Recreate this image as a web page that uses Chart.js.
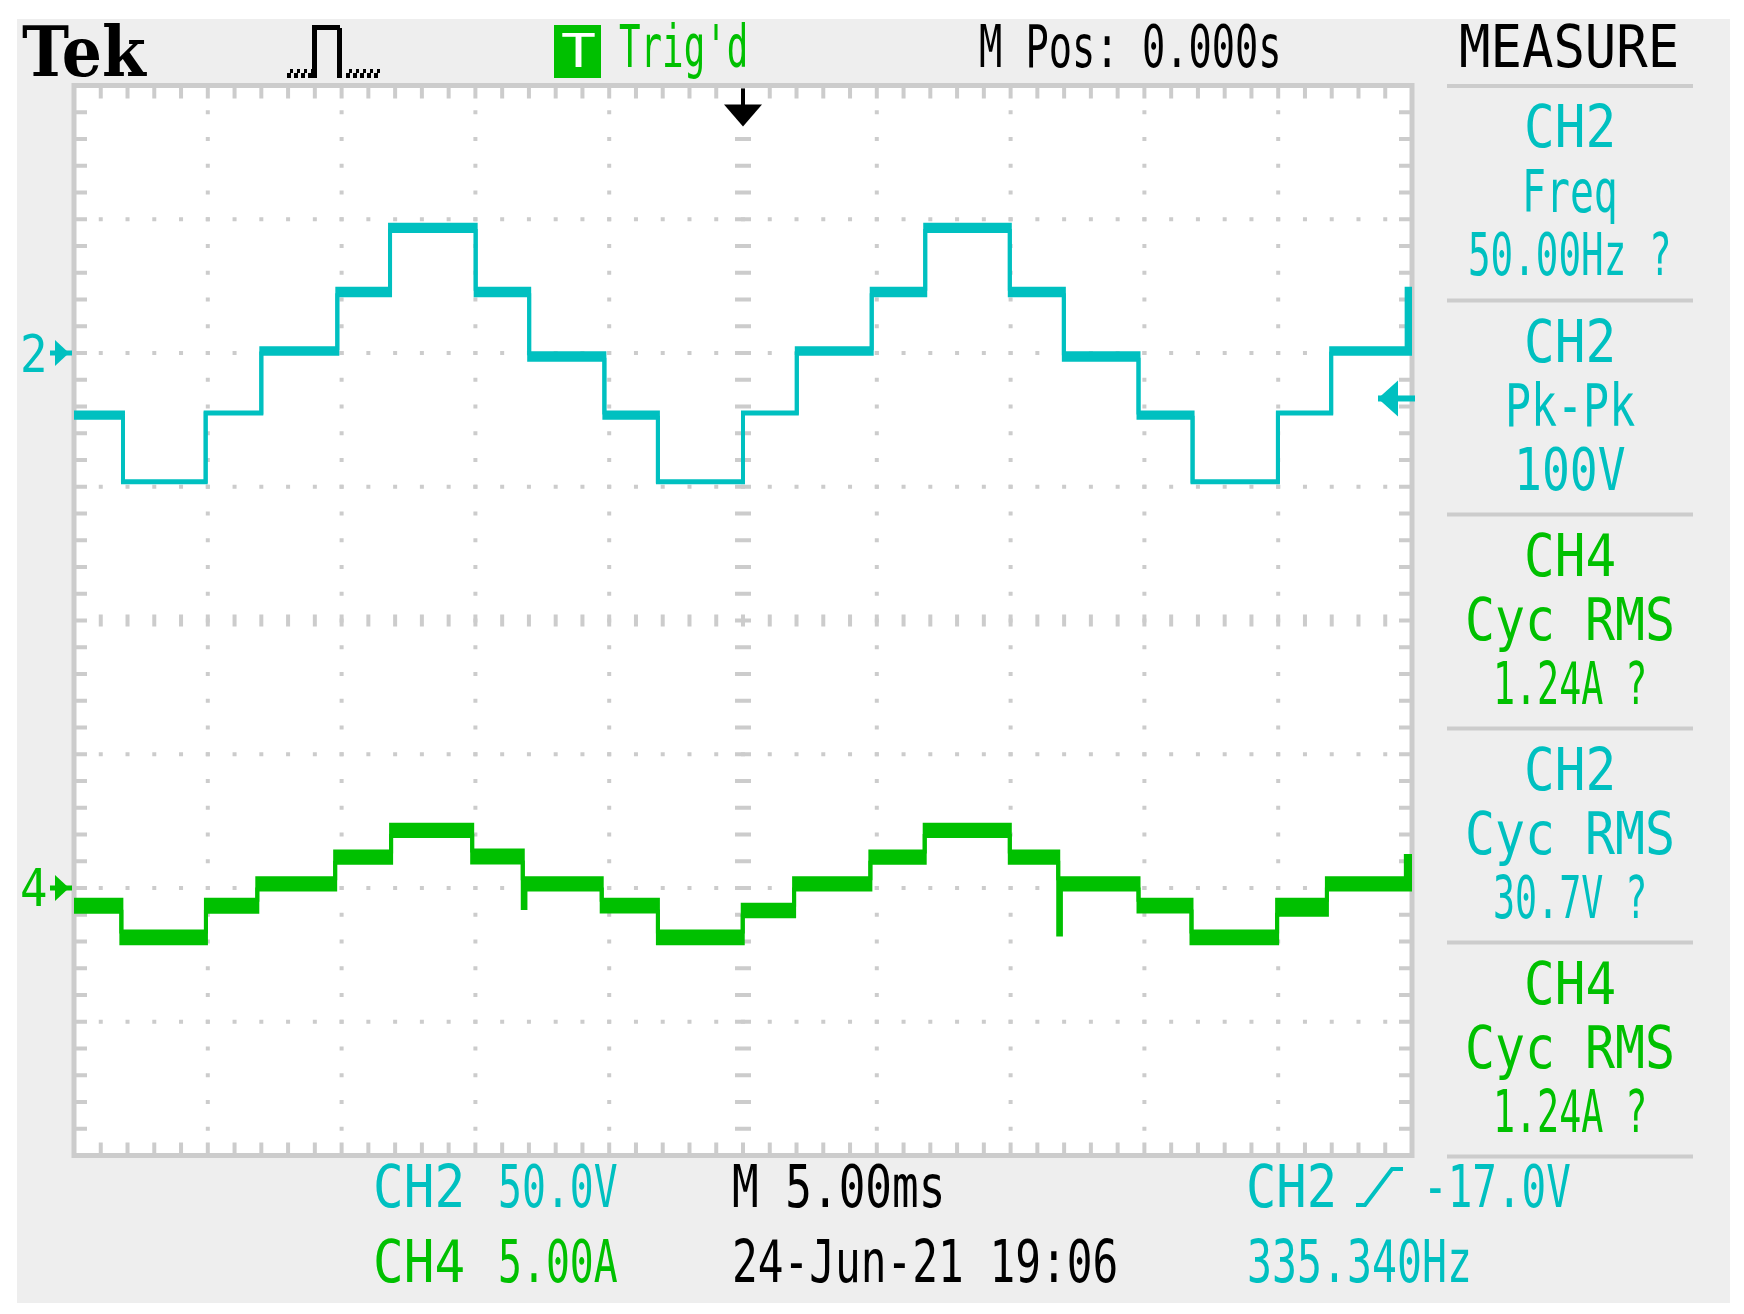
<!DOCTYPE html>
<html>
<head>
<meta charset="utf-8">
<title>Tek scope capture</title>
<script src="https://cdn.jsdelivr.net/npm/chart.js@4.4.0/dist/chart.umd.min.js"></script>
<style>
  html, body { margin: 0; padding: 0; background: #fff; }
  #screen { position: relative; width: 1744px; height: 1314px; overflow: hidden; }
  #panel { position: absolute; left: 17px; top: 19px; width: 1713px; height: 1284px; background: #eeeeee; }
  #scope { position: absolute; left: 0; top: 0; }
  #labels { position: absolute; left: 0; top: 0; width: 1744px; height: 1314px; }
  #tbox { position: absolute; left: 554px; top: 25px; width: 47px; height: 53px; background: #00c000; }
  .lbl { position: absolute; white-space: pre; transform-origin: 0 0; }
</style>
</head>
<body>
<div id="screen">
  <div id="panel"></div>
  <canvas id="scope" width="1744" height="1314"></canvas>
  <div id="labels"><div id="tbox"></div></div>
</div>
<script>
/* ── data ─────────────────────────────────────────────────────── */

// time axis: 5 ms/div, 10 div, trigger at centre (M Pos 0.000s)
const timeRange = [-25, 25];

// CH2 voltage, 50 V/div, ground 2 div below top. Step start times (ms)
// and the top / bottom edge of the trace band (V) from that time on.
const ch2Time = [-25, -23.17, -20.08, -18.0, -15.16, -13.19, -9.99, -7.99, -5.18, -3.18,
                 0.0, 2.01, 4.81, 6.81, 9.97, 11.99, 14.78, 16.8, 19.99, 21.98, 24.8, 25];
const ch2Hi = [-22.2, -47.9, -22.2, 1.8, 24.0, 47.9, 24.0, -0.1, -22.2, -47.9,
               -22.2, 1.8, 24.0, 47.9, 24.0, -0.1, -22.2, -47.9, -22.2, 1.8, 24.0, 24.0];
const ch2Lo = [-24.2, -48.3, -22.6, -0.3, 21.6, 45.6, 21.6, -2.5, -24.2, -48.3,
               -22.6, -0.3, 21.6, 45.6, 21.6, -2.5, -24.2, -48.3, -22.6, -0.3, -0.3, -0.3];

// CH4 current, 5 A/div, ground 2 div above bottom (A)
const ch4Time = [-25, -23.23, -20.07, -18.15, -15.24, -13.15, -10.12, -8.23, -8.13, -5.28, -3.18,
                 -0.01, 1.91, 4.76, 6.79, 9.97, 11.78, 11.88, 14.78, 16.76, 19.96, 21.82, 24.77, 25];
const ch4Hi = [-0.44, -1.63, -0.44, 0.36, 1.36, 2.36, 1.40, 0.36, 0.36, -0.44, -1.63,
               -0.63, 0.36, 1.36, 2.36, 1.36, 0.36, 0.36, -0.44, -1.63, -0.44, 0.36, 1.20, 1.20];
const ch4Lo = [-0.89, -2.07, -0.89, -0.06, 0.94, 1.94, 0.95, -0.75, -0.06, -0.88, -2.07,
               -1.06, -0.06, 0.94, 1.94, 0.94, -1.74, -0.06, -0.88, -2.07, -1.00, -0.06, -0.06, -0.06];

// vertical ranges (8 div each)
const ch2Range = [-300, 100];   // 50 V/div
const ch4Range = [-10, 30];     // 5 A/div
const trigLevel = -17.0;        // V on CH2

const CYAN  = '#00c0c0';
const GREEN = '#00c000';
const GRID  = '#cccccc';

/* ── text ─────────────────────────────────────────────────────── */

const MONO = '"DejaVu Sans Mono", monospace';

const labels = [
  { text: 'Tek', x: 23, w: 122, base: 76, size: 70, color: '#000', family: '"DejaVu Serif", serif', weight: 'bold', bear: 1 },
  { text: 'T', x: 564, w: 28, base: 67, size: 47, color: '#fff' },
  { text: "Trig'd", x: 621, w: 125, base: 67, color: GREEN },
  { text: 'M Pos: 0.000s', x: 981, w: 298, base: 67, color: '#000' },
  { text: 'MEASURE', x: 1462, w: 214, base: 67, color: '#000' },

  { text: '2', x: 23, w: 22, base: 372, size: 51, color: CYAN },
  { text: '4', x: 23, w: 22, base: 906, size: 51, color: GREEN },

  { text: 'CH2', x: 376, w: 86, base: 1207, color: CYAN },
  { text: '50.0V', x: 500, w: 115, base: 1207, color: CYAN },
  { text: 'M 5.00ms', x: 735, w: 208, base: 1207, color: '#000' },
  { text: 'CH2', x: 1249, w: 85, base: 1207, color: CYAN },
  { text: '-17.0V', x: 1425, w: 143, base: 1207, color: CYAN },
  { text: 'CH4', x: 376, w: 86, base: 1282, color: GREEN },
  { text: '5.00A', x: 500, w: 115, base: 1282, color: GREEN },
  { text: '24-Jun-21 19:06', x: 735, w: 381, base: 1282, color: '#000' },
  { text: '335.340Hz', x: 1249, w: 220, base: 1282, color: CYAN },
];

// MEASURE panel: one block per separator
const measureTops = [86, 300.5, 514.5, 728.5, 942.5];
const measureBlocks = [
  [['CH2', 86], ['Freq', 91], ['50.00Hz ?', 199]],
  [['CH2', 86], ['Pk-Pk', 125], ['100V', 106]],
  [['CH4', 86], ['Cyc RMS', 204], ['1.24A ?', 150]],
  [['CH2', 86], ['Cyc RMS', 204], ['30.7V ?', 150]],
  [['CH4', 86], ['Cyc RMS', 204], ['1.24A ?', 150]],
];
const measureColors = [CYAN, CYAN, GREEN, CYAN, GREEN];

measureBlocks.forEach((rows, b) => {
  const s = measureTops[b];
  const bases = [s + 61.5, s + 126, s + 189.5];
  rows.forEach(([text, w], r) => {
    labels.push({ text, cx: 1570, w, base: bases[r], color: measureColors[b] });
  });
});

function placeLabels() {
  const layer = document.getElementById('labels');
  labels.forEach(l => {
    const fs = l.size || 58;
    const el = document.createElement('span');
    el.className = 'lbl';
    el.textContent = l.text;
    el.style.fontFamily = l.family || MONO;
    el.style.fontSize = fs + 'px';
    el.style.fontWeight = l.weight || 'normal';
    el.style.lineHeight = '1';
    el.style.color = l.color;
    layer.appendChild(el);
    const bear = l.bear !== undefined ? l.bear : fs * 0.06;
    const raw = el.getBoundingClientRect().width;
    const k = l.w / (raw - 2 * bear);
    const left = l.cx !== undefined ? l.cx - l.w / 2 : l.x;
    el.style.left = (left - bear * k) + 'px';
    el.style.top = (l.base - 0.846 * fs) + 'px';
    el.style.transform = `scaleX(${k})`;
  });
}

/* ── graticule + screen furniture ─────────────────────────────── */

const graticule = {
  id: 'graticule',
  beforeDraw(chart) {
    const { ctx } = chart;
    const { left, right, top, bottom } = chart.chartArea;
    const dx = (right - left) / 10, dy = (bottom - top) / 8;
    ctx.save();
    ctx.fillStyle = '#fff';
    ctx.fillRect(left, top, right - left, bottom - top);
    ctx.fillStyle = GRID;

    // horizontal lines
    for (let j = 1; j < 8; j++) {
      const y = top + j * dy;
      for (let i = 1; i < 50; i++) {
        const x = left + i * dx / 5;
        if (j === 4) ctx.fillRect(x - 2, y - 6, 4, 12);
        else ctx.fillRect(x - 2, y - 2, 4, 4);
      }
    }
    // vertical lines
    for (let i = 1; i < 10; i++) {
      const x = left + i * dx;
      for (let k = 1; k < 40; k++) {
        const y = top + k * dy / 5;
        if (i === 5) ctx.fillRect(x - 8, y - 2, 16, 4);
        else ctx.fillRect(x - 2, y - 2, 4, 4);
      }
    }
    // border ticks
    for (let i = 1; i < 50; i++) {
      const x = left + i * dx / 5;
      ctx.fillRect(x - 2, top, 4, 13);
      ctx.fillRect(x - 2, bottom - 13, 4, 13);
    }
    for (let k = 1; k < 40; k++) {
      const y = top + k * dy / 5;
      ctx.fillRect(left, y - 2, 13, 4);
      ctx.fillRect(right - 13, y - 2, 13, 4);
    }
    ctx.strokeStyle = GRID;
    ctx.lineWidth = 5;
    ctx.strokeRect(left, top, right - left, bottom - top);

    // measure separators
    [86, 300.5, 514.5, 728.5, 942.5, 1156.5].forEach(s => ctx.fillRect(1447, s - 2, 246, 4));
    ctx.restore();
  },
  afterDraw(chart) {
    const { ctx, scales } = chart;
    const { left, right, top } = chart.chartArea;
    ctx.save();

    // trigger position (top)
    const xt = scales.x.getPixelForValue(0);
    ctx.fillStyle = '#000';
    ctx.fillRect(xt - 2, top + 3, 4, 20);
    ctx.beginPath();
    ctx.moveTo(xt - 19, top + 19); ctx.lineTo(xt + 19, top + 19); ctx.lineTo(xt, top + 41);
    ctx.closePath(); ctx.fill();

    // ground markers
    function ground(y, color) {
      ctx.fillStyle = color;
      ctx.fillRect(left - 24, y - 2.5, 22, 5);
      ctx.beginPath();
      ctx.moveTo(left - 19, y - 13); ctx.lineTo(left - 19, y + 13); ctx.lineTo(left - 5, y);
      ctx.closePath(); ctx.fill();
    }
    ground(scales.y.getPixelForValue(0), CYAN);
    ground(scales.y4.getPixelForValue(0), GREEN);

    // trigger level (right)
    const yl = scales.y.getPixelForValue(trigLevel);
    ctx.fillStyle = CYAN;
    ctx.fillRect(right - 34, yl - 3, 37, 6);
    ctx.beginPath();
    ctx.moveTo(right - 14, yl - 18); ctx.lineTo(right - 14, yl + 18); ctx.lineTo(right - 34, yl);
    ctx.closePath(); ctx.fill();

    // acquisition icon
    ctx.fillStyle = '#000';
    ctx.fillRect(312, 28, 5, 50);
    ctx.fillRect(312, 25, 28, 5);
    ctx.fillRect(337, 28, 5, 50);
    for (let x = 287; x < 310; x += 7) { ctx.fillRect(x, 73, 4, 5); ctx.fillRect(x + 3, 69, 3, 4); }
    for (let x = 346; x < 380; x += 7) { ctx.fillRect(x, 73, 4, 5); ctx.fillRect(x + 3, 69, 3, 4); }

    // slope symbol in trigger readout
    ctx.strokeStyle = CYAN;
    ctx.lineWidth = 4;
    ctx.beginPath();
    ctx.moveTo(1356, 1205); ctx.lineTo(1365, 1205); ctx.lineTo(1392, 1169); ctx.lineTo(1403, 1169);
    ctx.stroke();
    ctx.restore();
  }
};

/* ── chart ────────────────────────────────────────────────────── */

function pts(times, vals) {
  return times.map((t, i) => ({ x: t, y: vals[i] }));
}

// stepped 'before' in Chart.js: stay at point i's level until point i+1, then jump
function edge(label, data, axis, color, fill) {
  return {
    label, data, yAxisID: axis,
    borderColor: color, backgroundColor: color,
    borderWidth: 4, stepped: 'before',
    pointRadius: 0, fill,
    borderCapStyle: 'butt', borderJoinStyle: 'miter',
  };
}

new Chart(document.getElementById('scope'), {
  type: 'line',
  data: {
    datasets: [
      edge('CH2 top', pts(ch2Time, ch2Hi), 'y', CYAN, false),
      edge('CH2 bottom', pts(ch2Time, ch2Lo), 'y', CYAN, '-1'),
      edge('CH4 top', pts(ch4Time, ch4Hi), 'y4', GREEN, false),
      edge('CH4 bottom', pts(ch4Time, ch4Lo), 'y4', GREEN, '-1'),
    ],
  },
  options: {
    responsive: false,
    animation: false,
    events: [],
    layout: { padding: { left: 74, top: 85.5, right: 1744 - 1412, bottom: 1314 - 1155.5 } },
    plugins: {
      legend: { display: false },
      tooltip: { enabled: false },
    },
    scales: {
      x:  { type: 'linear', min: timeRange[0], max: timeRange[1], display: false },
      y:  { type: 'linear', min: ch2Range[0], max: ch2Range[1], display: false },
      y4: { type: 'linear', min: ch4Range[0], max: ch4Range[1], display: false },
    },
  },
  plugins: [graticule],
});

placeLabels();
</script>
</body>
</html>
